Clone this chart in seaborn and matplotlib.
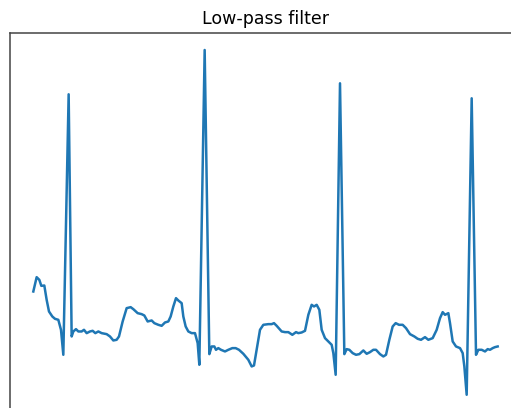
import matplotlib
matplotlib.use("Agg")
from matplotlib import pyplot as plt
import seaborn as sns
import pandas as pd

# filtered ECG trace (sample index, amplitude)
samples = [0, 10, 18, 24, 33, 40, 47, 57, 65, 75, 83, 90,
           106, 115, 120, 128, 135, 145, 152, 160, 170, 178, 186, 195, 205,
           220, 230, 240, 250, 257, 268, 280, 292, 300, 313, 325, 333, 343,
           355, 363, 375, 385, 395, 405, 412, 420, 428, 435, 445, 450, 457,
           465, 475, 485, 493, 498,
           514, 528, 535, 543, 548, 555, 563, 575, 585, 597, 607, 617, 630,
           645, 655, 662, 670, 680, 690, 705, 715, 722, 730, 745, 755, 765,
           777, 788, 795, 805, 815, 825, 835, 842, 850, 858, 865, 875, 885,
           895, 900, 907,
           920, 933, 940, 948, 958, 968, 978, 990, 1000, 1010, 1020, 1028,
           1040, 1050, 1058, 1068, 1078, 1087, 1097, 1108, 1118, 1130, 1143,
           1153, 1163, 1175, 1185, 1198, 1210, 1220, 1228, 1235, 1245, 1250,
           1258, 1268, 1280, 1288, 1293, 1300,
           1315, 1328, 1335, 1345, 1355, 1363, 1370, 1378, 1385, 1393]
amplitude = [0.125, 0.168, 0.160, 0.142, 0.143, 0.100, 0.065, 0.050, 0.043, 0.040, 0.010, -0.065,
             0.717, -0.010, 0.005, 0.012, 0.005, 0.005, 0.010, 0.000, 0.005, 0.007, 0.000, 0.005, 0.000,
             -0.003, -0.010, -0.022, -0.020, -0.010, 0.035, 0.075, 0.078, 0.072, 0.060, 0.057, 0.053, 0.035,
             0.038, 0.030, 0.025, 0.022, 0.032, 0.035, 0.050, 0.080, 0.105, 0.098, 0.090, 0.050, 0.020,
             0.005, 0.000, 0.000, -0.030, -0.095,
             0.850, -0.063, -0.040, -0.040, -0.050, -0.045, -0.050, -0.055, -0.050, -0.045, -0.045, -0.050, -0.062,
             -0.080, -0.100, -0.097, -0.050, 0.010, 0.025, 0.027, 0.027, 0.030, 0.022, 0.005, 0.003, 0.003,
             -0.005, 0.003, 0.000, 0.002, 0.007, 0.055, 0.085, 0.080, 0.085, 0.070, 0.010, -0.015, -0.025,
             -0.035, -0.060, -0.125,
             0.750, -0.063, -0.048, -0.050, -0.060, -0.065, -0.063, -0.052, -0.062, -0.057, -0.050, -0.050,
             -0.063, -0.070, -0.065, -0.020, 0.020, 0.030, 0.025, 0.025, 0.015, -0.003, -0.010,
             -0.017, -0.020, -0.012, -0.020, -0.015, 0.010, 0.045, 0.063, 0.055, 0.060, 0.030,
             -0.025, -0.040, -0.045, -0.060, -0.100, -0.185,
             0.705, -0.065, -0.050, -0.050, -0.055, -0.048, -0.050, -0.045, -0.042, -0.040]

df = pd.DataFrame({'sample': samples, 'amplitude': amplitude})

fig = plt.figure(figsize=(5.11, 4.08), dpi=100)
# axes runs past the right and bottom edge, like the cropped original
ax = fig.add_axes([10.1 / 511, -4 / 408, 510.8 / 511, 379.25 / 408])
sns.lineplot(data=df, x='sample', y='amplitude', ax=ax, sort=False,
             estimator=None, color='#1f77b4', linewidth=1.8)
ax.set_title('Low-pass filter', fontsize=12.5)
ax.set_xticks([])
ax.set_yticks([])
ax.set_xlabel('')
ax.set_ylabel('')
for spine in ax.spines.values():
    spine.set_color('#444444')
    spine.set_linewidth(1.1)

fig.savefig('out.png', dpi=100)
